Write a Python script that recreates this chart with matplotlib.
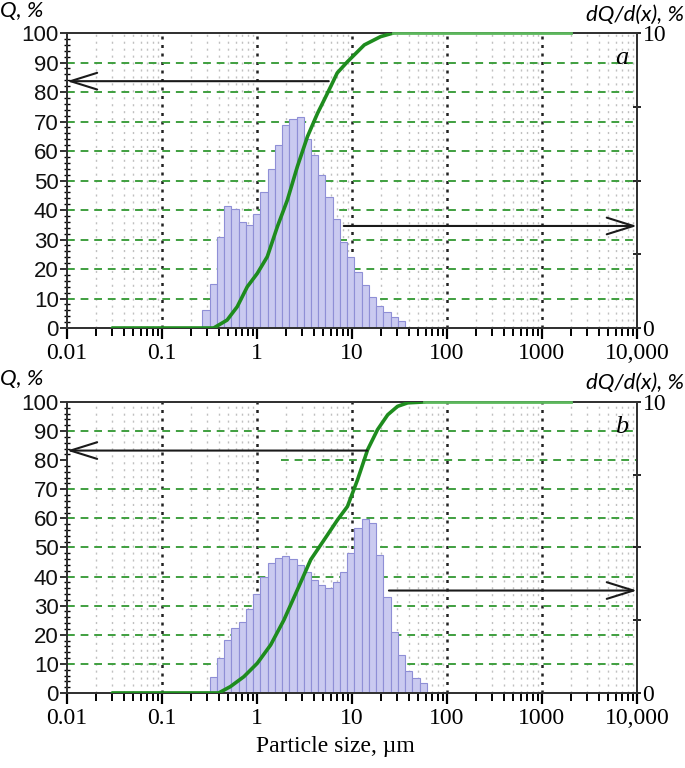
import numpy as np
import matplotlib
matplotlib.use("Agg")
import matplotlib.pyplot as plt
from matplotlib.ticker import FixedLocator, NullFormatter

# size classes of the analyser (log-spaced), um
class_edges = 10 ** np.arange(-0.574, 2.0, 0.0762)

# (a) differential distribution dQ/d(x), %  (starts at class 0)
hist_a_first = 0
hist_a = [0.6, 1.5, 3.1, 4.15, 4.05, 3.6, 3.5, 3.85, 4.6, 5.4, 6.2, 6.9, 7.1, 7.15,
          6.4, 5.85, 5.2, 4.45, 3.7, 2.9, 2.4, 1.9, 1.45, 1.05, 0.75, 0.53, 0.36, 0.25]
# (b) starts one class later
hist_b_first = 1
hist_b = [0.56, 1.19, 1.82, 2.23, 2.45, 2.9, 3.4, 4.0, 4.46, 4.64, 4.69, 4.6, 4.4,
          4.17, 3.89, 3.72, 3.6, 3.83, 4.17, 4.8, 5.67, 5.99, 5.84, 4.75, 3.3, 2.1,
          1.3, 0.75, 0.5, 0.33]

# cumulative Q, %
cum_a_x = [0.03, 0.35, 0.485, 0.619, 0.791, 1.007, 1.285, 1.637, 2.09, 2.66, 3.40,
           4.34, 5.09, 6.0, 7.0, 8.97, 13.5, 20.0, 27.0]
cum_a_y = [0, 0, 2.7, 7.2, 14, 18.5, 24.2, 34.3, 43.4, 54.7, 64.9, 72.8, 77.3, 82,
           86.5, 90.3, 96, 98.8, 100]
cum_b_x = [0.03, 0.395, 0.526, 0.728, 1.007, 1.393, 1.923, 2.66, 3.68, 5.09, 7.05,
           8.97, 11.46, 14.62, 18.6, 23.8, 30.2, 38.6, 58.0]
cum_b_y = [0, 0, 2.2, 5.6, 10.2, 16.5, 25.1, 35.4, 45.8, 52.6, 59.5, 64.1, 73.3,
           83.6, 90.5, 95.6, 98.5, 99.7, 100]
flat_end = 2000

# axis pointers: (from size, to size, Q level)
arrows_a = [(5.7, 0.01, 83.7), (8.2, 10000, 34.6)]
arrows_b = [(14.5, 0.01, 83.3), (24.5, 10000, 35.2)]

q_grid = [10, 20, 30, 40, 50, 60, 70, 80, 90]
x_ticks = [0.01, 0.1, 1, 10, 100, 1000, 10000]
x_labels = ["0.01", "0.1", "1", "10", "100", "1000", "10,000"]

SERIF = ["Liberation Serif", "DejaVu Serif"]
NARROW = ["Liberation Sans Narrow", "Liberation Sans", "DejaVu Sans"]
ITAL = ["Lato", "DejaVu Sans"]
GREEN = "#1e8c1e"
SPINE = "#333333"


def draw_panel(rect, first, hist, cx, cy, arrows, letter, grid_from=None):
    ax = fig.add_axes(rect)
    ax2 = ax.twinx()
    ax.set_zorder(2)
    ax2.set_zorder(1)
    ax.patch.set_visible(False)
    ax2.patch.set_visible(True)
    ax2.patch.set_facecolor("white")

    for a in (ax, ax2):
        a.set_xscale("log")
        a.set_xlim(0.01, 10000)
        for s in a.spines.values():
            s.set_color(SPINE)
            s.set_linewidth(1.4)

    ax.set_ylim(0, 100)
    ax2.set_ylim(0, 10)

    # grid (on the back axes, under the bars)
    minors = [m * 10.0 ** k for k in range(-2, 4) for m in range(2, 10)]
    for xv in minors:
        ax2.axvline(xv, color="#c0c0c0", lw=1.0, ls=(0, (1.5, 3.5)), zorder=0.4)
    for xv in x_ticks[1:-1]:
        ax2.axvline(xv, color="#222222", lw=1.8, ls=(0, (1.2, 2.2)), zorder=0.5)
    for q in q_grid:
        x0 = 0.01
        if grid_from and q in grid_from:
            x0 = grid_from[q]
        ax2.hlines(q / 10, x0, 10000, color="#3f9f3f", lw=1.4, ls=(0, (4, 3)), zorder=0.5)

    lefts = class_edges[first:first + len(hist)]
    rights = class_edges[first + 1:first + len(hist) + 1]
    ax2.bar(lefts, hist, width=rights - lefts, align="edge", color="#cacaf0",
            edgecolor="#8f8fd6", linewidth=0.8, zorder=1)

    ax.plot(cx, cy, color=GREEN, lw=2.6, zorder=3, solid_capstyle="round")
    ax.plot([cx[-1], flat_end], [100, 100], color="#5cb85c", lw=2.0, zorder=3, clip_on=False)

    for x_from, x_to, q in arrows:
        ax.annotate("", xy=(x_to, q), xytext=(x_from, q),
                    arrowprops=dict(arrowstyle="->,head_length=1.6,head_width=0.5",
                                    color="#1a1a1a", lw=1.5, mutation_scale=12,
                                    shrinkA=0, shrinkB=0), zorder=4)

    # ticks
    ax.set_yticks(range(0, 101, 10))
    ax.yaxis.set_minor_locator(FixedLocator(range(0, 101, 2)))
    ax.tick_params(axis="y", which="major", direction="out", length=5, width=1.2,
                   labelsize=16, pad=1, colors="#111111")
    ax.tick_params(axis="y", which="minor", direction="inout", length=5, width=1.0)
    for lab in ax.get_yticklabels():
        lab.set_family(NARROW)

    ax.xaxis.set_major_locator(FixedLocator(x_ticks))
    ax.set_xticklabels(x_labels)
    ax.xaxis.set_minor_locator(FixedLocator(minors))
    ax.xaxis.set_minor_formatter(NullFormatter())
    ax.tick_params(axis="x", which="major", direction="out", length=8, width=1.6,
                   labelsize=17, pad=3)
    ax.tick_params(axis="x", which="minor", direction="out", length=6, width=1.4)
    for lab in ax.get_xticklabels():
        lab.set_family(SERIF)

    ax2.tick_params(axis="x", which="both", bottom=False, top=False, labelbottom=False)
    ax2.yaxis.set_major_locator(FixedLocator([0, 2.5, 5, 7.5, 10]))
    ax2.set_yticklabels(["0", "", "", "", "10"])
    ax2.tick_params(axis="y", direction="inout", length=6, width=1.2, labelsize=17, pad=1)
    for lab in ax2.get_yticklabels():
        lab.set_family(SERIF)

    ax.text(0.985, 0.915, letter, transform=ax.transAxes, ha="right", va="center",
            fontsize=19, style="italic", family=SERIF, zorder=5)
    return ax


fig = plt.figure(figsize=(6.85, 7.68), dpi=100)

draw_panel([0.0978, 0.5729, 0.832, 0.384], hist_a_first, hist_a, cum_a_x, cum_a_y,
           arrows_a, "a")
draw_panel([0.0978, 0.0977, 0.832, 0.3789], hist_b_first, hist_b, cum_b_x, cum_b_y,
           arrows_b, "b", grid_from={80: 1.8})

for ytop in (0.986, 0.507):
    fig.text(0.0, ytop, "Q, %", ha="left", va="center", fontsize=16,
             style="italic", family=ITAL)
    fig.text(0.998, ytop - 0.006, "dQ/d(x), %", ha="right", va="center", fontsize=16,
             style="italic", family=ITAL)

fig.text(0.49, 0.028, "Particle size, \u00b5m", ha="center", va="center",
         fontsize=17, family=SERIF)

fig.savefig("out.png", dpi=100)
